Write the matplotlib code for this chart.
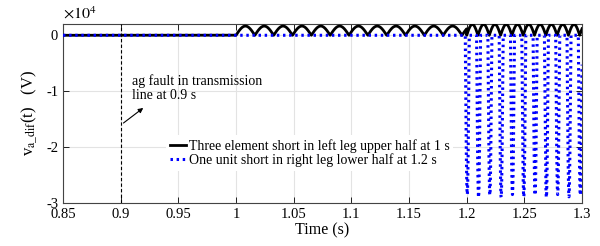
import numpy as np
import matplotlib
matplotlib.use("Agg")
import matplotlib.pyplot as plt

plt.rcParams['font.family'] = ['Liberation Serif', 'DejaVu Serif']
plt.rcParams['mathtext.fontset'] = 'stix'

# values (volts)
t_start, t_end = 0.85, 1.3
# black: rectified bumps after the fault at 1 s, (start, end, bump period, peak)
black_segments = [(1.0, 1.2, 0.01633, 1650.0), (1.2, 1.3, 0.0098, 1950.0)]
# blue: narrow dips after 1.2 s
dip_times = [1.2005, 1.2103, 1.2201, 1.2299, 1.2397, 1.2495, 1.2593, 1.2691, 1.2789, 1.2887, 1.2985]
dip_depths = [-28500, -29000, -28600, -29000, -28500, -28900, -28600, -29000, -28500, -28900, -28600]
dip_halfwidth = 0.0017

fault_time = 0.9
x_ticks = [0.85, 0.9, 0.95, 1.0, 1.05, 1.1, 1.15, 1.2, 1.25, 1.3]
x_labels = ['0.85', '0.9', '0.95', '1', '1.05', '1.1', '1.15', '1.2', '1.25', '1.3']
y_ticks = [0, -10000, -20000, -30000]
y_labels = ['0', '-1', '-2', '-3']

label_black = 'Three element short in left leg upper half at 1 s'
label_blue = 'One unit short in right leg lower half at 1.2 s'

# build waveforms
t = np.linspace(t_start, t_end, 20000)
v_black = np.zeros_like(t)
for t0, t1, period, peak in black_segments:
    m = (t >= t0) & (t < t1 + 1e-9)
    v_black[m] = peak * np.abs(np.sin(np.pi * (t[m] - t0) / period))

v_blue = np.zeros_like(t)
for tk, dk in zip(dip_times, dip_depths):
    m = np.abs(t - tk) < dip_halfwidth
    v_blue[m] = dk * np.cos(0.5 * np.pi * (t[m] - tk) / dip_halfwidth)

fig = plt.figure(figsize=(6.0, 2.46), dpi=100, facecolor='white')
ax = fig.add_axes([0.105, 0.175, 0.865, 0.727])

ax.plot(t, v_black, color='black', linewidth=2.0, label=label_black, zorder=3)
ax.plot(t, v_blue, color=(0, 0, 1), linewidth=2.2, linestyle=(0, (0.8, 1.2)), label=label_blue, zorder=4)
ax.axvline(fault_time, color='black', linewidth=0.8, linestyle=(0, (3, 2)), zorder=5)

ax.set_xlim(t_start, t_end)
ax.set_ylim(-30000, 2000)
ax.set_xticks(x_ticks)
ax.set_xticklabels(x_labels)
ax.set_yticks(y_ticks)
ax.set_yticklabels(y_labels)
ax.tick_params(direction='in', top=True, right=True, labelsize=10.5, length=4, width=0.6)
ax.grid(True, color='#e3e3e3', linewidth=0.8)
ax.set_axisbelow(True)
for s in ax.spines.values():
    s.set_color('#444444')
    s.set_linewidth(0.8)

ax.set_xlabel('Time (s)', fontsize=11.5, labelpad=1)
ax.set_ylabel(r'v$_{\mathrm{a\_dif}}$(t)   (V)', fontsize=12, labelpad=4)
ax.text(0.0, 1.01, r'$\times10^{4}$', transform=ax.transAxes, fontsize=11.5, ha='left', va='bottom')

ax.annotate('ag fault in transmission\nline at 0.9 s', xy=(0.9215, -12700), xytext=(0.910, -9400),
            fontsize=10, ha='left', va='center', linespacing=1.1, zorder=6)
ax.annotate('', xy=(0.9215, -12700), xytext=(0.9005, -16000),
            arrowprops=dict(arrowstyle='-|>', color='black', lw=0.8, mutation_scale=7), zorder=6)

leg = ax.legend(loc='center', bbox_to_anchor=(0.475, 0.279), fontsize=10, frameon=True,
                handlelength=1.2, handletextpad=0.15, borderpad=0.3, labelspacing=0.05,
                fancybox=False)
leg.get_frame().set_edgecolor('none')
leg.get_frame().set_facecolor('white')
leg.get_frame().set_alpha(1.0)
leg.set_zorder(7)

fig.savefig('out.png', dpi=100)
